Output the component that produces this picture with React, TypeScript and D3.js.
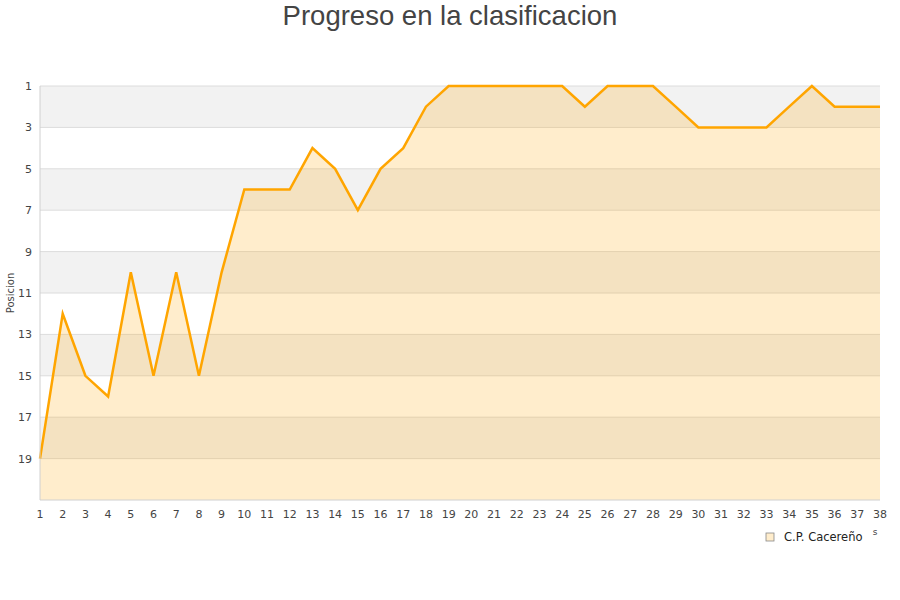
import React from "react";
import * as d3 from "d3";

const jornadas: number[] = Array.from({ length: 38 }, (_, i) => i + 1);
const posiciones: number[] = [
  19, 12, 15, 16, 10, 15, 10, 15, 10, 6,
  6, 6, 4, 5, 7, 5, 4, 2, 1, 1,
  1, 1, 1, 1, 2, 1, 1, 1, 2, 3,
  3, 3, 3, 2, 1, 2, 2, 2,
];
const yTicks: number[] = [1, 3, 5, 7, 9, 11, 13, 15, 17, 19];
const bands: number[][] = [[1, 3], [5, 7], [9, 11], [13, 15], [17, 19]];
const seriesName = "C.P. Cacereño";
const title = "Progreso en la clasificacion";
const yTitle = "Posicion";
const xTitleTail = "s";

export default function App() {
  const W = 900, H = 600;
  const left = 40, right = 880, top = 86, bottom = 500;
  const x = d3.scaleLinear().domain([1, 38]).range([left, right]);
  const y = d3.scaleLinear().domain([1, 21]).range([top, bottom]);
  const data = jornadas.map((j, i) => ({ j, p: posiciones[i] }));
  const line = d3.line<{ j: number; p: number }>().x(d => x(d.j)).y(d => y(d.p));
  const area = d3.area<{ j: number; p: number }>().x(d => x(d.j)).y0(bottom).y1(d => y(d.p));
  const font = "'DejaVu Sans', sans-serif";
  return (
    <svg width={W} height={H} style={{ position: "absolute", left: 0, top: 0, background: "#fff" }}>
      <text x={450} y={25} textAnchor="middle" fontFamily="'Liberation Sans', Arial, sans-serif" fontSize={27.5} fill="#444">{title}</text>
      {bands.map((b, i) => (
        <rect key={i} x={left} y={y(b[0])} width={right - left} height={y(b[1]) - y(b[0])} fill="#f2f2f2" />
      ))}
      {yTicks.map(t => (
        <line key={t} x1={left} x2={right} y1={y(t)} y2={y(t)} stroke="#dcdcdc" strokeWidth={1} />
      ))}
      <path d={area(data) || ""} fill="rgba(255,165,0,0.2)" />
      <path d={line(data) || ""} fill="none" stroke="#ffa500" strokeWidth={2.5} strokeLinejoin="miter" />
      <line x1={left} x2={left} y1={top} y2={bottom} stroke="#d0d0d0" />
      <line x1={left} x2={right} y1={bottom} y2={bottom} stroke="#d0d0d0" />
      {yTicks.map(t => (
        <text key={t} x={32} y={y(t) + 4} textAnchor="end" fontFamily={font} fontSize={11} fill="#444">{t}</text>
      ))}
      {jornadas.map(j => (
        <text key={j} x={x(j)} y={518} textAnchor="middle" fontFamily={font} fontSize={11} fill="#444">{j}</text>
      ))}
      <text transform={`translate(14,293) rotate(-90)`} textAnchor="middle" fontFamily={font} fontSize={10} fill="#444">{yTitle}</text>
      <text x={875} y={535} textAnchor="middle" fontFamily={font} fontSize={9} fill="#444">{xTitleTail}</text>
      <rect x={766} y={533} width={8} height={8} fill="#ffedcc" stroke="#888" strokeWidth={0.8} />
      <text x={784} y={541} fontFamily={font} fontSize={11.5} fill="#222">{seriesName}</text>
    </svg>
  );
}
